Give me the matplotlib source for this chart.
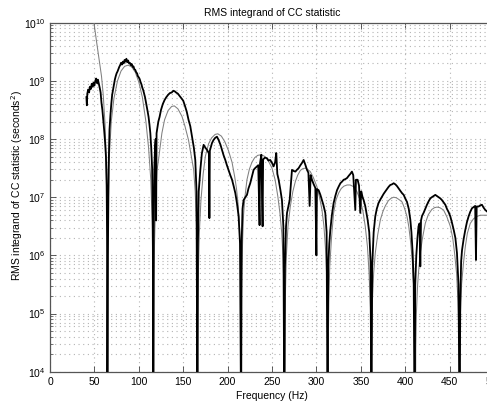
import numpy as np
import matplotlib
matplotlib.use("Agg")
import matplotlib.pyplot as plt
from matplotlib.ticker import LogLocator, NullFormatter

plt.rcParams['font.family'] = ['Liberation Sans', 'DejaVu Sans']

# ---- measured (noisy) integrand: frequency (Hz) and log10(value) ----
meas_freq = [
    41, 41.5, 42, 43, 44, 45, 46, 47, 48, 49, 50, 51, 52, 53, 54, 55, 56, 57, 58, 59, 60, 61, 62, 63, 63.8, 64.3, 64.6,
    65.2, 66, 67, 68, 69, 70, 71, 72, 73, 74, 75, 76, 77, 78, 79, 80, 81, 82, 83, 84, 85, 86, 87, 88, 89, 90,
    91, 92, 93, 94, 95, 96, 97, 98, 99, 100, 101, 102, 103, 104, 105, 106, 107, 108, 109, 110, 111, 112, 113,
    114, 115, 115.8, 116.3,
    116.8, 117.5, 118.3, 119, 119.5, 120, 121, 122, 123.4, 125, 127, 129, 131, 133, 135, 137, 139, 140.5, 142,
    144, 146, 148, 150, 152, 154, 156, 158, 160, 162, 163.6, 165, 166,
    166.6, 167.5, 169.3, 171, 173, 175, 177, 179, 179.5, 180, 182.4, 184, 186, 188, 190, 192, 193.7, 195.5,
    197.4, 199, 201, 203, 205, 207, 208.7, 210.5, 212.4, 214, 215.2,
    215.8, 216.8, 218, 220, 221.8, 223.5, 225.5, 227.5, 229.3, 231, 233, 234.5, 236, 236.5, 238, 239.4, 240,
    242, 244.4, 246, 248, 250, 251.8, 253.5, 254.8, 256, 257.5, 259.5, 261.2, 262.8, 263.9,
    264.6, 265.8, 266.9, 268.5, 269.9, 271.2, 272.5, 274.5, 276.3, 278, 280, 282, 283.8, 285.6, 287.5, 289.4,
    291, 292.4, 293.5, 295, 297, 298.8, 300, 300.6, 302.5, 304.5, 306.3, 308, 310, 311.5, 312.6,
    313.3, 314.5, 315.7, 317.5, 319.4, 321.3, 323.2, 325, 327, 329, 330.7, 332.5, 334.5, 336.5, 338.2, 340,
    341.5, 343.8, 344.5, 346.4, 348, 349.4, 350.5, 352, 353.2, 355, 356.5, 357.7, 359.5, 361, 362,
    362.8, 364.5, 366.3, 368, 370, 372, 373.9, 375.8, 377.6, 379.5, 381.4, 383.2, 385, 387, 389, 390.8, 392.6,
    394.5, 396.4, 398.3, 400, 402, 404, 405.8, 407, 408.4, 409.6, 410.6,
    411.3, 412.5, 413.8, 415, 416.2, 417, 417.8, 419, 420.7, 422.6, 424.5, 426.4, 428.3, 430, 432, 433.9,
    435.8, 437.7, 439.5, 441.4, 443.3, 445.2, 447, 449, 450.8, 452.7, 454.6, 456.5, 458.3, 460, 461.3,
    462, 463, 464, 465.8, 467.7, 469.5, 471.4, 473.3, 475.2, 477, 478.8, 479.7, 480.5, 482.7, 484.5, 486.4,
    488.3, 490.2, 492.5, 495, 498, 500,
]
meas_log10 = [
    8.72, 8.58, 8.78, 8.85, 8.80, 8.90, 8.86, 8.95, 8.90, 8.97, 8.92, 9.00, 9.04, 8.96, 9.02, 8.95, 8.88, 8.80,
    8.62, 8.50, 8.33, 8.15, 7.95, 7.70, 7.20, 6.30, 3.0,
    6.0, 7.5, 8.16, 8.40, 8.60, 8.76, 8.85, 8.95, 9.02, 9.08, 9.13, 9.16, 9.20, 9.24, 9.27, 9.31, 9.28, 9.33,
    9.30, 9.36, 9.33, 9.38, 9.32, 9.35, 9.30, 9.31, 9.27, 9.29, 9.24, 9.25, 9.20, 9.19, 9.15, 9.13, 9.08, 9.06,
    9.03, 8.98, 8.94, 8.88, 8.84, 8.78, 8.72, 8.64, 8.56, 8.47, 8.38, 8.25, 8.10, 7.85, 7.50, 6.50, 3.0,
    6.3, 7.5, 7.87, 8.00, 6.60, 8.10, 8.20, 8.30, 8.38, 8.50, 8.60, 8.67, 8.72, 8.76, 8.79, 8.80, 8.83, 8.82,
    8.80, 8.78, 8.74, 8.70, 8.66, 8.57, 8.47, 8.33, 8.22, 8.04, 7.85, 7.64, 7.10, 3.0,
    6.2, 7.1, 7.47, 7.75, 7.90, 7.85, 7.81, 7.75, 6.64, 7.80, 7.93, 7.98, 8.02, 8.04, 7.98, 7.90, 7.81, 7.72,
    7.64, 7.56, 7.47, 7.38, 7.30, 7.18, 7.07, 6.90, 6.67, 6.20, 3.0,
    6.2, 6.8, 6.95, 7.00, 7.04, 7.15, 7.24, 7.36, 7.47, 7.50, 7.53, 7.55, 6.52, 7.58, 7.73, 6.50, 7.65, 7.68,
    7.67, 7.63, 7.64, 7.59, 7.53, 7.60, 7.76, 7.40, 7.30, 7.12, 6.95, 6.50, 3.0,
    5.8, 6.5, 6.73, 6.85, 6.95, 7.20, 7.47, 7.45, 7.44, 7.47, 7.50, 7.55, 7.59, 7.64, 7.56, 7.47, 7.42, 6.85,
    7.38, 7.30, 7.22, 7.16, 6.00, 7.14, 7.12, 7.04, 6.95, 6.86, 6.73, 6.40, 3.0,
    5.8, 6.2, 6.44, 6.70, 6.90, 7.02, 7.12, 7.18, 7.24, 7.27, 7.30, 7.31, 7.33, 7.37, 7.40, 7.44, 7.38, 6.78,
    7.30, 7.30, 7.20, 6.73, 7.10, 7.00, 6.95, 6.85, 6.72, 6.61, 6.40, 5.90, 3.0,
    5.8, 6.4, 6.67, 6.80, 6.90, 6.96, 7.01, 7.06, 7.10, 7.14, 7.18, 7.21, 7.22, 7.24, 7.22, 7.19, 7.15, 7.11,
    7.07, 7.04, 6.98, 6.92, 6.80, 6.61, 6.40, 6.04, 5.50, 3.0,
    5.5, 6.0, 6.3, 6.50, 6.55, 5.81, 6.60, 6.68, 6.73, 6.80, 6.87, 6.93, 6.98, 7.00, 7.02, 7.04, 7.02, 7.00,
    6.98, 6.95, 6.91, 6.87, 6.80, 6.74, 6.67, 6.56, 6.44, 6.30, 6.04, 5.50, 3.0,
    5.2, 5.9, 6.09, 6.28, 6.44, 6.57, 6.67, 6.75, 6.81, 6.83, 6.85, 5.92, 6.84, 6.84, 6.86, 6.87, 6.82, 6.78,
    6.75, 6.74, 6.72, 6.70,
]

# ---- theoretical (smooth) curve: frequency (Hz) and log10(value) ----
theory_freq = [
    40, 44, 47, 49.5, 52, 55, 58, 60, 62, 63.3, 64.1, 64.5, 64.8,
    65.2, 65.8, 67, 69, 72, 76, 80, 84, 88, 92, 96, 100, 104, 108, 111, 113.5, 115, 116, 116.6,
    117.2, 117.7, 118.7, 120.4, 122, 123.5, 126, 129, 133, 137, 140, 144, 148.6, 152, 156, 159, 161.8, 163.5,
    165, 165.7, 166.2,
    166.7, 167.2, 168.2, 170, 172.5, 174.9, 178.6, 182, 186, 189, 193, 197, 201, 205, 208, 210, 212, 213.5,
    214.4, 215,
    215.5, 216, 217, 218, 219.5, 221.8, 224.5, 227.4, 230.5, 234, 238, 242, 246, 250, 253.5, 256.5, 259, 261,
    262.5, 263.5, 264.2,
    264.7, 265.2, 266.2, 268, 270.6, 273.5, 276.3, 279, 281.9, 284.5, 287.5, 290, 293.1, 296.5, 300.6, 303.5,
    306.3, 308.5, 310.3, 311.7, 312.5, 313,
    313.5, 314, 315, 317, 319.4, 322, 325, 328, 331, 334.5, 338, 342, 345.5, 349.4, 352.5, 355, 357.5, 359.3,
    360.8, 361.8,
    362.3, 363, 364.5, 366.3, 369, 372, 374.8, 377.6, 381, 384, 387, 390, 393, 396.4, 399, 402, 404, 405.8,
    408, 409.8, 410.8, 411.4,
    411.9, 412.6, 414, 415.5, 417, 419.5, 422.6, 426, 430, 433, 435.7, 439, 443.2, 447, 450.8, 453.5, 455.6,
    457.8, 459.5, 460.5, 461,
    461.5, 462.2, 463.5, 465.5, 467.7, 470, 473.3, 477, 480.8, 484.5, 488.3, 492.5, 496, 500,
]
theory_log10 = [
    11.5, 10.6, 10.25, 10.0, 9.72, 9.40, 9.08, 8.75, 8.25, 7.60, 6.80, 6.00, 2.0,
    6.0, 7.0, 7.75, 8.30, 8.70, 9.00, 9.17, 9.25, 9.27, 9.24, 9.15, 8.98, 8.72, 8.30, 7.85, 7.30, 6.60, 5.60, 2.0,
    5.6, 6.2, 6.8, 7.45, 7.62, 7.80, 8.10, 8.33, 8.49, 8.56, 8.57, 8.52, 8.39, 8.22, 7.98, 7.72, 7.47, 7.10,
    6.50, 5.80, 2.0,
    5.2, 5.8, 6.4, 6.95, 7.40, 7.70, 7.92, 8.02, 8.08, 8.09, 8.05, 7.95, 7.80, 7.60, 7.35, 7.15, 6.85, 6.45,
    5.90, 2.0,
    5.2, 5.7, 6.3, 6.7, 7.0, 7.30, 7.48, 7.60, 7.68, 7.72, 7.73, 7.70, 7.62, 7.50, 7.30, 7.02, 6.72, 6.38,
    5.95, 5.35, 2.0,
    4.8, 5.4, 6.0, 6.5, 6.84, 7.10, 7.27, 7.38, 7.46, 7.49, 7.50, 7.48, 7.44, 7.34, 7.18, 7.00, 6.78, 6.50,
    6.10, 5.60, 5.00, 2.0,
    4.6, 5.2, 5.8, 6.3, 6.73, 6.95, 7.07, 7.15, 7.19, 7.21, 7.21, 7.18, 7.10, 6.95, 6.75, 6.50, 6.15, 5.70,
    5.10, 2.0,
    4.5, 5.2, 5.7, 6.04, 6.35, 6.61, 6.75, 6.85, 6.94, 6.98, 7.00, 6.99, 6.96, 6.92, 6.82, 6.67, 6.50, 6.27,
    5.90, 5.40, 4.80, 2.0,
    4.4, 5.0, 5.5, 5.8, 6.04, 6.30, 6.55, 6.70, 6.79, 6.82, 6.83, 6.82, 6.78, 6.66, 6.50, 6.30, 6.04, 5.70,
    5.20, 4.60, 2.0,
    4.3, 5.0, 5.5, 5.85, 6.15, 6.38, 6.55, 6.63, 6.67, 6.69, 6.69, 6.69, 6.67, 6.64,
]

x_ticks = [0, 50, 100, 150, 200, 250, 300, 350, 400, 450, 500]

W, H = 487, 401
fig = plt.figure(figsize=(W / 100, H / 100), dpi=100)
fig.patch.set_facecolor('white')
ax = fig.add_axes([50 / W, (H - 371.7) / H, 444 / W, (371.7 - 22.7) / H])

ax.set_yscale('log')
ax.plot(theory_freq, np.power(10.0, theory_log10), color='#808080', lw=0.75, zorder=3)
ax.plot(meas_freq, np.power(10.0, meas_log10), color='black', lw=1.3, zorder=4)

ax.set_xlim(0, 500)
ax.set_ylim(1e4, 1e10)
ax.set_xticks(x_ticks)
ax.set_xticklabels([str(t) for t in x_ticks])
ax.yaxis.set_major_locator(LogLocator(base=10, numticks=20))
ax.yaxis.set_minor_locator(LogLocator(base=10, subs=np.arange(2, 10), numticks=20))
ax.yaxis.set_minor_formatter(NullFormatter())

grid_style = dict(ls=(0, (1, 3.2)), lw=0.8, color='#b4b4b4')
ax.grid(True, which='major', axis='both', **grid_style)
ax.grid(True, which='minor', axis='y', **grid_style)
ax.set_axisbelow(True)

ax.tick_params(which='both', direction='in', top=True, right=True, labelsize=7.5,
               colors='#404040', labelcolor='black')
ax.tick_params(which='major', length=4, width=0.6)
ax.tick_params(which='minor', length=2, width=0.5)
for s in ax.spines.values():
    s.set_linewidth(0.9)
    s.set_color('#555555')

ax.set_title('RMS integrand of CC statistic', fontsize=7.5, pad=5)
ax.set_xlabel('Frequency (Hz)', fontsize=7.5, labelpad=3)
ax.set_ylabel('RMS integrand of CC statistic (seconds$^2$)', fontsize=7.5)
ax.yaxis.set_label_coords(-0.056, 0.532)

fig.savefig('out.png', dpi=100)
